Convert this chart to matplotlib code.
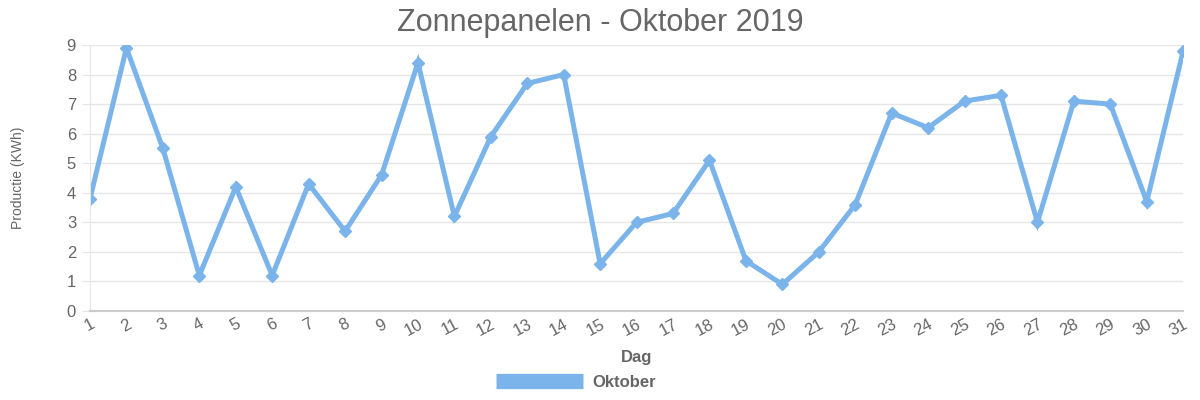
import matplotlib.pyplot as plt

plt.rcParams['font.family'] = ['Liberation Sans', 'DejaVu Sans']

# Daily solar production for October 2019 (kWh)
dagen = list(range(1, 32))
productie = [3.8, 8.9, 5.5, 1.2, 4.2, 1.2, 4.3, 2.7, 4.6, 8.4,
             3.2, 5.9, 7.7, 8.0, 1.6, 3.0, 3.3, 5.1, 1.7, 0.9,
             2.0, 3.6, 6.7, 6.2, 7.1, 7.3, 3.0, 7.1, 7.0, 3.7, 8.8]
tick_labels = [str(d) for d in dagen]

tekst = '#666666'
lijn = '#7ab4ea'

fig = plt.figure(figsize=(12, 4), dpi=100)
ax = fig.add_axes([0.075, 0.2225, 0.911, 0.665])

ax.plot(dagen, productie, color=lijn, linewidth=3.6, marker='D',
        markersize=6, markerfacecolor=lijn, markeredgecolor=lijn,
        solid_joinstyle='miter', label='Oktober')

ax.set_xlim(1, 31)
ax.set_ylim(0, 9)
ax.set_yticks(range(0, 10))
ax.set_xticks(dagen)
ax.set_xticklabels(tick_labels, rotation=28, ha='right', rotation_mode='anchor')

ax.grid(axis='y', color='#e6e6e6', linewidth=1)
ax.set_axisbelow(True)
for side in ['top', 'right']:
    ax.spines[side].set_visible(False)
ax.spines['left'].set_color('#e6e6e6')
ax.spines['bottom'].set_color('#cccccc')
ax.spines['bottom'].set_linewidth(1.5)

ax.tick_params(axis='y', colors='#e6e6e6', labelcolor=tekst, labelsize=12, length=6, pad=4)
ax.tick_params(axis='x', length=0, labelcolor=tekst, labelsize=12, pad=4)

ax.set_ylabel('Productie (KWh)', color=tekst, fontsize=10, labelpad=30)
ax.set_xlabel('Dag', color=tekst, fontsize=12, fontweight='bold', labelpad=8)

fig.suptitle('Zonnepanelen - Oktober 2019', color=tekst, fontsize=22, y=0.98)

leg = fig.legend(loc='center', bbox_to_anchor=(0.48, 0.045), frameon=False,
                 handlelength=5.2, handleheight=1.0, handletextpad=0.6,
                 prop={'weight': 'bold', 'size': 12})
for t in leg.get_texts():
    t.set_color(tekst)
for h in leg.legend_handles:
    h.set_marker('')
    h.set_linewidth(11)
    h.set_solid_capstyle('butt')

fig.savefig('out.png', dpi=100)
